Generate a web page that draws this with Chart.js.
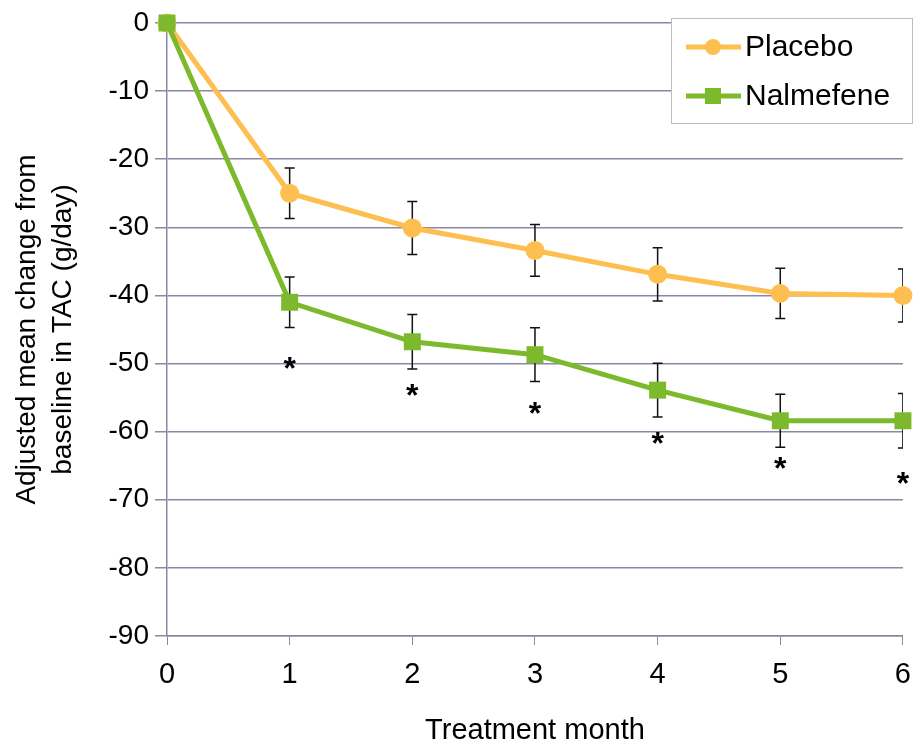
<!DOCTYPE html>
<html>
<head>
<meta charset="utf-8">
<script src="https://cdn.jsdelivr.net/npm/chart.js@4"></script>
<style>
  body { margin: 0; background: #fff; }
</style>
</head>
<body>
<canvas id="tac" width="924" height="744"></canvas>
<script>
const months = [0, 1, 2, 3, 4, 5, 6];
const placebo = [0, -25, -30.1, -33.4, -36.9, -39.7, -40];
const placeboSE = [0, 3.7, 3.9, 3.8, 3.9, 3.7, 3.9];
const nalmefene = [0, -41, -46.8, -48.7, -53.9, -58.4, -58.4];
const nalmefeneSE = [0, 3.7, 4.0, 3.95, 3.95, 3.9, 4.0];
const stars = [null, -49.5, -53.5, -56.1, -60.5, -64.2, -66.4];

const FONT = "'Liberation Sans', Arial, sans-serif";
const gridColor = '#8a87a3';

// error bars, under the markers
const errorBars = {
    id: 'errorBars',
    beforeDatasetsDraw(chart) {
        const ctx = chart.ctx;
        const x = chart.scales.x, y = chart.scales.y;
        const area = chart.chartArea;
        ctx.save();
        ctx.beginPath();
        ctx.rect(area.left - 10, 0, area.right - area.left + 10, chart.height);
        ctx.clip();
        ctx.strokeStyle = '#111';
        ctx.lineWidth = 1.5;
        [[placebo, placeboSE], [nalmefene, nalmefeneSE]].forEach(function(s) {
            months.forEach(function(m, i) {
                if (!s[1][i]) return;
                const px = x.getPixelForValue(m);
                const top = y.getPixelForValue(s[0][i] + s[1][i]);
                const bot = y.getPixelForValue(s[0][i] - s[1][i]);
                ctx.beginPath();
                ctx.moveTo(px, top); ctx.lineTo(px, bot);
                ctx.moveTo(px - 5, top); ctx.lineTo(px + 5, top);
                ctx.moveTo(px - 5, bot); ctx.lineTo(px + 5, bot);
                ctx.stroke();
            });
        });
        ctx.restore();
    }
};

// significance stars + boxed legend
const extras = {
    id: 'extras',
    afterDraw(chart) {
        const ctx = chart.ctx;
        const x = chart.scales.x, y = chart.scales.y;
        ctx.save();
        ctx.fillStyle = '#000';
        ctx.font = 'bold 32px ' + FONT;
        ctx.textAlign = 'center';
        ctx.textBaseline = 'alphabetic';
        stars.forEach(function(v, i) {
            if (v === null) return;
            ctx.fillText('*', x.getPixelForValue(months[i]), y.getPixelForValue(v) + 19);
        });

        // legend box
        ctx.fillStyle = '#fff';
        ctx.fillRect(671, 18, 241, 105);
        ctx.strokeStyle = '#bdbdbd';
        ctx.lineWidth = 1;
        ctx.strokeRect(671.5, 18.5, 241, 105);
        const items = chart.data.datasets;
        [47, 96].forEach(function(ly, i) {
            const ds = items[i];
            ctx.strokeStyle = ds.borderColor;
            ctx.lineWidth = 5;
            ctx.beginPath();
            ctx.moveTo(686, ly); ctx.lineTo(741, ly);
            ctx.stroke();
            ctx.fillStyle = ds.borderColor;
            if (ds.pointStyle === 'circle') {
                ctx.beginPath();
                ctx.arc(713, ly, 8, 0, Math.PI * 2);
                ctx.fill();
            } else {
                ctx.fillRect(705, ly - 8, 16, 16);
            }
            ctx.fillStyle = '#000';
            ctx.font = '30px ' + FONT;
            ctx.textAlign = 'left';
            ctx.textBaseline = 'middle';
            ctx.fillText(ds.label, 745, ly + 1);
        });
        ctx.restore();
    }
};

new Chart(document.getElementById('tac'), {
    type: 'line',
    data: {
        labels: months,
        datasets: [
        {
            label: 'Placebo',
            data: placebo,
            borderColor: '#fdbf4f',
            backgroundColor: '#fdbf4f',
            borderWidth: 5,
            pointStyle: 'circle',
            pointRadius: 9.5,
            pointBorderWidth: 0,
            fill: false,
            order: 2,
            clip: false
        },
        {
            label: 'Nalmefene',
            data: nalmefene,
            borderColor: '#7cb92c',
            backgroundColor: '#7cb92c',
            borderWidth: 5,
            pointStyle: 'rect',
            pointRadius: 12,
            pointBorderWidth: 0,
            fill: false,
            order: 1,
            clip: false
        }
        ]
    },
    options: {
        responsive: false,
        animation: false,
        layout: { padding: { top: 23, right: 17, left: 0, bottom: 0 } },
        plugins: { legend: { display: false }, tooltip: { enabled: false } },
        scales: {
            x: {
                type: 'linear',
                min: 0, max: 6,
                afterFit: function(s) { s.height = 108; },
                ticks: { stepSize: 1, color: '#000', font: { family: FONT, size: 29 }, padding: 13 },
                grid: { drawOnChartArea: false, color: gridColor, tickLength: 9 },
                border: { color: gridColor, width: 1.5 },
                title: {
                    display: true, text: 'Treatment month', color: '#000',
                    font: { family: FONT, size: 29 }, padding: { top: 0, bottom: -4 }
                }
            },
            y: {
                min: -90, max: 0,
                afterFit: function(s) { s.width = 167; },
                ticks: { stepSize: 10, color: '#000', font: { family: FONT, size: 28 }, padding: 6 },
                grid: { color: gridColor, lineWidth: 1.5, tickLength: 12 },
                border: { color: gridColor, width: 1.5 },
                title: {
                    display: true,
                    text: ['Adjusted mean change from', 'baseline in TAC (g/day)'],
                    color: '#000',
                    font: { family: FONT, size: 28, lineHeight: 1.3 },
                    padding: { top: 9, bottom: 0 }
                }
            }
        }
    },
    plugins: [errorBars, extras]
});
</script>
</body>
</html>
